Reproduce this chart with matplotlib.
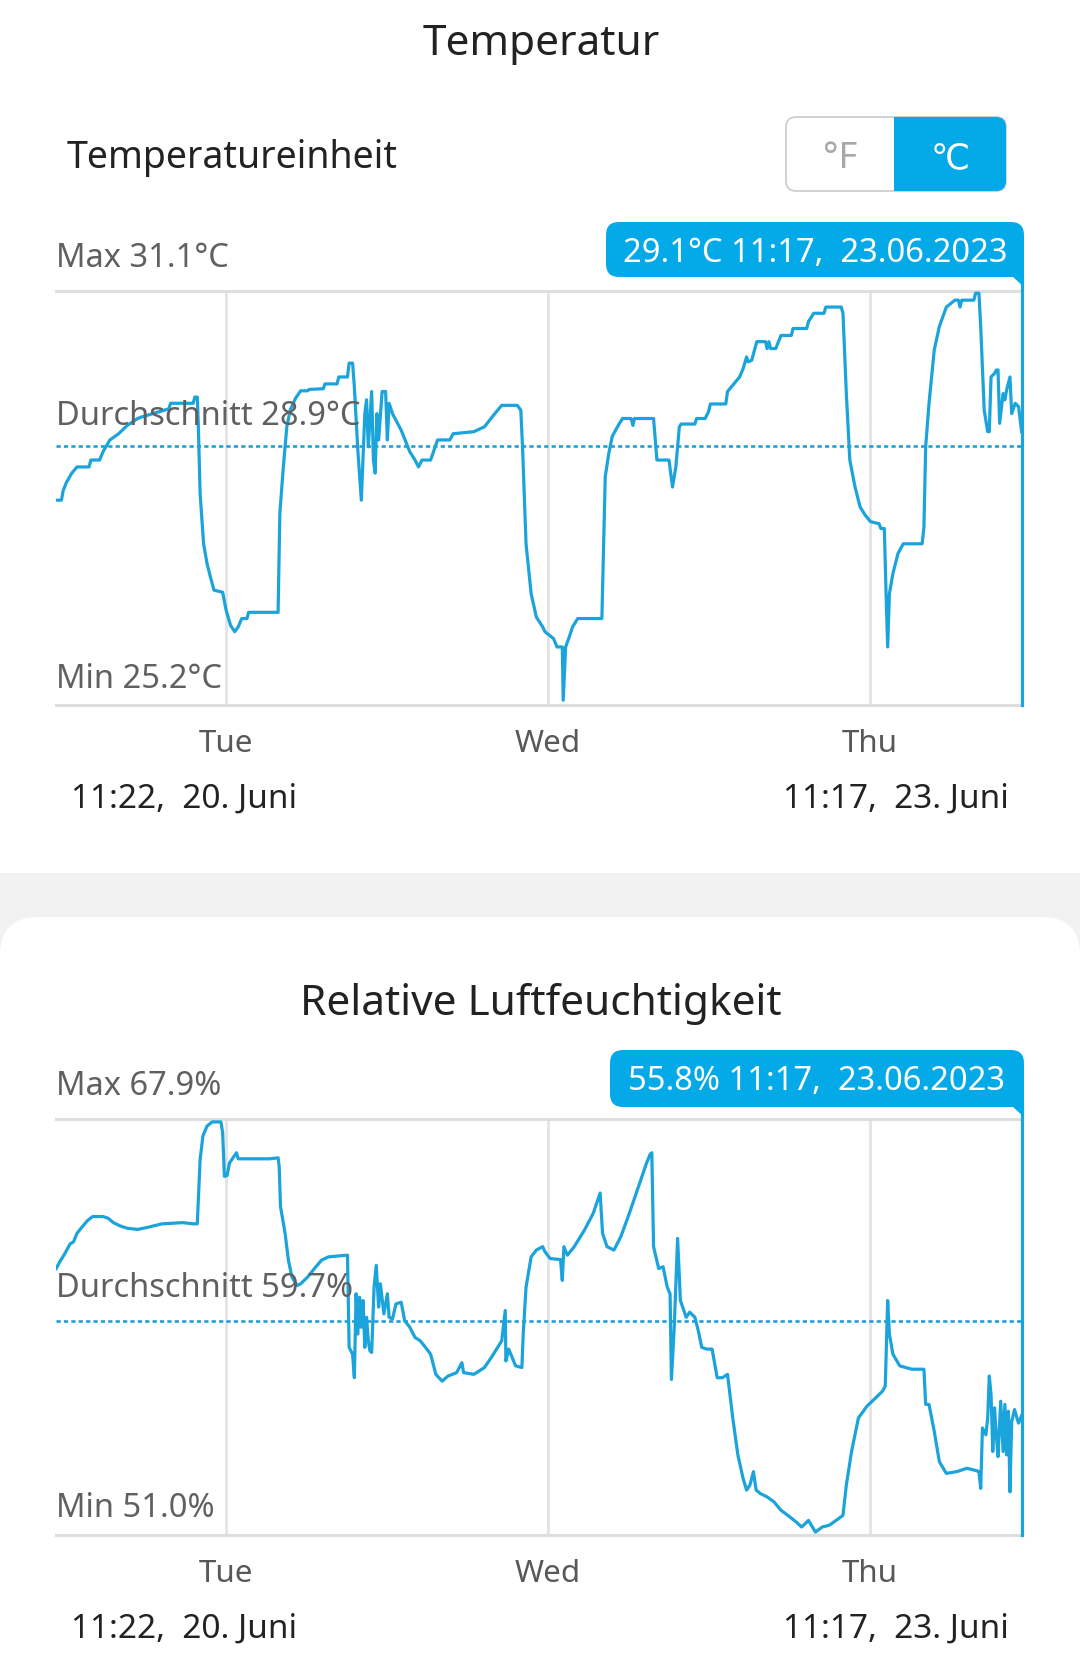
import matplotlib
matplotlib.use('Agg')
import matplotlib.pyplot as plt
from matplotlib.patches import FancyBboxPatch, Rectangle, Polygon
import pandas as pd

plt.rcParams['font.family'] = ['Noto Sans', 'DejaVu Sans']

# ---------------- data ----------------
START = pd.Timestamp('2023-06-20 11:22')
END = pd.Timestamp('2023-06-23 11:17')
day_ticks = ['2023-06-21', '2023-06-22', '2023-06-23']
day_labels = ['Tue', 'Wed', 'Thu']
start_label = '11:22,  20. Juni'
end_label = '11:17,  23. Juni'

temp_hours = [0, 0.39, 0.52, 0.77, 1.16, 1.55, 2.45, 2.58, 3.23, 3.49,
              4.00, 4.65, 5.29, 6.07, 6.33, 8.39, 8.52, 10.20, 10.33, 10.51,
              10.59, 10.72, 10.98, 11.24, 11.49, 11.75, 12.40, 12.66, 12.99, 13.30,
              13.56, 13.82, 14.21, 14.33, 16.53, 16.66, 16.92, 17.18, 17.43, 17.82,
              18.21, 18.73, 18.85, 19.89, 20.02, 20.92, 21.05, 21.70, 21.82, 22.08,
              22.21, 22.47, 22.73, 22.99, 23.12, 23.25, 23.50, 23.63, 23.76, 23.89,
              24.02, 24.28, 24.54, 24.67, 24.80, 25.05, 25.70, 26.34, 26.73, 26.99,
              27.25, 27.89, 28.41, 29.32, 29.57, 31.12, 31.90, 32.67, 33.19, 34.35,
              34.61, 34.74, 35.00, 35.38, 35.77, 36.24, 36.41, 37.05, 37.31, 37.70,
              37.77, 37.95, 38.21, 38.47, 38.85, 40.65, 40.78, 40.90, 41.16, 41.42,
              41.67, 41.93, 42.19, 42.83, 42.96, 43.08, 44.50, 44.75, 45.65, 45.91,
              46.16, 46.42, 46.55, 47.58, 47.70, 48.34, 48.60, 48.73, 49.88, 50.01,
              50.53, 50.91, 51.17, 51.43, 51.55, 51.81, 52.19, 52.84, 52.96, 53.09,
              53.22, 53.60, 53.99, 54.76, 54.89, 55.91, 56.04, 56.43, 57.20, 57.33,
              58.48, 58.61, 58.86, 59.12, 59.51, 59.89, 60.28, 60.66, 61.30, 61.43,
              61.69, 61.82, 61.94, 62.07, 62.33, 62.71, 63.10, 64.51, 64.64, 64.77,
              65.02, 65.41, 65.79, 66.31, 66.95, 67.21, 67.33, 67.46, 68.36, 68.49,
              68.74, 68.87, 69.13, 69.39, 69.51, 69.64, 69.90, 70.03, 70.16, 70.28,
              70.54, 70.67, 70.80, 71.05, 71.18, 71.44, 71.69, 71.92]
temp_values = [28.12, 28.12, 28.26, 28.38, 28.51, 28.60, 28.60, 28.70, 28.70, 28.82,
               28.99, 29.08, 29.20, 29.30, 29.32, 29.44, 29.52, 29.52, 29.61, 29.61,
               29.18, 28.22, 27.49, 27.20, 27.01, 26.82, 26.79, 26.53, 26.31, 26.22,
               26.29, 26.41, 26.41, 26.50, 26.50, 27.93, 28.60, 29.18, 29.42, 29.59,
               29.70, 29.70, 29.72, 29.73, 29.80, 29.80, 29.90, 29.90, 30.10, 30.10,
               29.76, 28.84, 28.12, 29.37, 29.57, 28.89, 29.69, 28.70, 28.51, 29.37,
               28.99, 29.69, 29.69, 28.99, 29.52, 29.37, 29.13, 28.82, 28.70, 28.60,
               28.70, 28.70, 28.99, 28.99, 29.08, 29.11, 29.18, 29.37, 29.49, 29.49,
               29.42, 28.89, 27.49, 26.77, 26.43, 26.29, 26.22, 26.12, 26.00, 26.00,
               25.23, 26.00, 26.14, 26.29, 26.41, 26.41, 27.49, 28.46, 28.79, 29.04,
               29.13, 29.22, 29.30, 29.30, 29.20, 29.30, 29.30, 28.70, 28.70, 28.31,
               28.60, 29.18, 29.22, 29.22, 29.30, 29.30, 29.40, 29.51, 29.51, 29.69,
               29.81, 29.90, 30.02, 30.19, 30.12, 30.14, 30.41, 30.41, 30.31, 30.41,
               30.31, 30.31, 30.50, 30.50, 30.60, 30.60, 30.70, 30.82, 30.82, 30.91,
               30.91, 30.82, 29.66, 28.70, 28.31, 28.02, 27.90, 27.81, 27.78, 27.71,
               27.71, 26.77, 26.00, 26.77, 27.06, 27.35, 27.49, 27.49, 27.73, 28.89,
               29.52, 30.29, 30.63, 30.91, 31.01, 31.01, 30.91, 31.01, 31.01, 31.11,
               31.11, 30.63, 29.42, 29.11, 29.11, 29.90, 29.95, 30.00, 30.00, 29.23,
               29.66, 29.57, 29.71, 29.90, 29.37, 29.52, 29.47, 29.11]

hum_hours = [0, 0.26, 0.65, 1.03, 1.29, 1.55, 1.94, 2.32, 2.71, 3.49,
             3.87, 4.26, 4.78, 5.29, 6.07, 6.84, 7.49, 7.88, 9.43, 10.20,
             10.51, 10.59, 10.72, 10.93, 11.24, 11.62, 12.27, 12.40, 12.53, 12.73,
             12.91, 13.43, 13.56, 13.82, 15.88, 16.53, 16.61, 16.71, 17.05, 17.30,
             17.56, 17.95, 18.21, 18.73, 19.24, 19.76, 20.28, 21.70, 21.82, 22.08,
             22.21, 22.34, 22.47, 22.60, 22.73, 22.86, 22.99, 23.12, 23.25, 23.37,
             23.50, 23.68, 23.84, 24.02, 24.15, 24.41, 24.67, 24.80, 25.05, 25.31,
             25.70, 25.96, 26.34, 26.73, 27.12, 27.51, 27.89, 28.28, 28.75, 29.19,
             29.83, 30.22, 30.35, 31.12, 31.90, 32.41, 33.19, 33.45, 33.50, 33.71,
             34.22, 34.69, 34.79, 35.00, 35.38, 35.77, 36.24, 36.41, 36.80, 37.57,
             37.70, 37.82, 38.08, 38.59, 39.36, 40.01, 40.52, 40.70, 41.03, 41.55,
             42.06, 42.70, 43.47, 43.98, 44.24, 44.37, 44.50, 44.88, 45.21, 45.52,
             45.73, 45.83, 46.04, 46.29, 46.50, 46.93, 47.19, 47.58, 47.83, 48.09,
             48.47, 48.86, 49.24, 49.63, 50.01, 50.40, 50.78, 51.17, 51.43, 51.68,
             51.94, 52.14, 52.45, 52.96, 53.48, 53.99, 54.50, 55.14, 55.53, 56.04,
             56.56, 57.07, 57.58, 58.10, 58.61, 58.86, 59.25, 59.76, 60.40, 61.05,
             61.56, 61.76, 61.94, 62.07, 62.33, 62.84, 63.74, 64.64, 64.77, 65.02,
             65.41, 65.79, 66.31, 67.08, 67.85, 68.62, 68.74, 68.87, 69.00, 69.26,
             69.39, 69.51, 69.64, 69.77, 69.90, 70.03, 70.16, 70.36, 70.54, 70.67,
             70.80, 70.93, 71.05, 71.18, 71.39, 71.57, 71.69, 71.92]
hum_values = [61.86, 62.13, 62.48, 62.87, 62.96, 63.31, 63.58, 63.83, 64.00, 64.00,
              63.93, 63.75, 63.61, 63.52, 63.47, 63.56, 63.65, 63.70, 63.75, 63.70,
              63.70, 64.69, 66.35, 67.32, 67.73, 67.90, 67.90, 67.46, 65.66, 65.69,
              66.21, 66.63, 66.38, 66.38, 66.38, 66.42, 66.07, 64.41, 63.31, 62.20,
              61.51, 61.16, 61.23, 61.51, 61.86, 62.20, 62.34, 62.41, 58.61, 58.33,
              57.36, 60.82, 59.16, 60.68, 59.44, 60.54, 58.61, 59.85, 58.88, 58.47,
              58.40, 61.09, 61.99, 60.27, 61.23, 59.99, 60.82, 59.85, 59.78, 60.40,
              60.47, 59.71, 59.44, 59.02, 58.88, 58.61, 58.33, 57.50, 57.22, 57.43,
              57.57, 57.98, 57.57, 57.50, 57.78, 58.19, 58.88, 60.13, 58.05, 58.54,
              57.85, 57.78, 59.16, 61.09, 62.34, 62.62, 62.76, 62.55, 62.27, 62.23,
              61.37, 62.76, 62.41, 62.76, 63.45, 64.14, 64.97, 63.31, 62.76, 62.62,
              63.17, 64.14, 65.38, 66.21, 66.56, 66.63, 62.76, 61.86, 61.93, 61.09,
              60.82, 57.29, 59.44, 63.10, 60.54, 59.85, 60.06, 59.85, 59.30, 58.61,
              58.54, 58.54, 57.36, 57.36, 57.50, 55.70, 54.18, 53.21, 52.73, 52.94,
              53.49, 52.73, 52.59, 52.45, 52.24, 51.90, 51.69, 51.41, 51.21, 51.48,
              51.00, 51.21, 51.28, 51.48, 51.69, 52.94, 54.32, 55.70, 56.19, 56.53,
              56.81, 57.02, 60.54, 59.16, 58.33, 57.85, 57.71, 57.71, 56.26, 56.26,
              55.15, 53.90, 53.42, 53.49, 53.63, 53.52, 53.49, 52.80, 55.29, 55.01,
              55.70, 57.43, 56.67, 54.32, 56.12, 55.01, 54.11, 56.39, 54.32, 56.26,
              54.18, 55.98, 52.66, 55.56, 56.05, 55.70, 55.49, 55.80]

temp_max, temp_min, temp_avg, temp_now = 31.1, 25.2, 28.9, 29.1
hum_max, hum_min, hum_avg, hum_now = 67.9, 51.0, 59.7, 55.8

# ---------------- style ----------------
LINE = '#1ba3dc'
AVG = '#229fd2'
TIP = '#04a9e7'
GRID = '#dedede'
LABEL_GRAY = '#606060'
DARK = '#222222'
W, H = 10.8, 16.63

fig = plt.figure(figsize=(W, H), dpi=100)
fig.patch.set_facecolor('white')


def yin(px_from_top):
    return (1663 - px_from_top) / 100.0


def fy(px_from_top):
    return 1 - px_from_top / 1663.0


# background: grey band + white rounded card
fig.patches.append(Rectangle((0, yin(917) - 0.5), W, 0.5 + (917 - 873) / 100.0,
                             transform=fig.dpi_scale_trans, facecolor='#f2f2f2',
                             edgecolor='none', zorder=-3))
fig.patches.append(FancyBboxPatch((0, -0.6), W, yin(917) + 0.6,
                                  boxstyle='round,pad=0,rounding_size=0.38',
                                  transform=fig.dpi_scale_trans, facecolor='white',
                                  edgecolor='none', zorder=-2))

# unit toggle
fig.patches.append(FancyBboxPatch((7.86, yin(191)), 2.20, 0.74,
                                  boxstyle='round,pad=0,rounding_size=0.10',
                                  transform=fig.dpi_scale_trans, facecolor='white',
                                  edgecolor='#cfcfcf', lw=1.3, zorder=2))
fig.patches.append(FancyBboxPatch((8.94, yin(191)), 1.12, 0.74,
                                  boxstyle='round,pad=0,rounding_size=0.10',
                                  transform=fig.dpi_scale_trans, facecolor=TIP,
                                  edgecolor='none', zorder=2.1))
fig.patches.append(Rectangle((8.94, yin(191)), 0.2, 0.74, transform=fig.dpi_scale_trans,
                             facecolor=TIP, edgecolor='none', zorder=2.1))
fig.text(840 / 1080, fy(168), '°F', fontsize=26, color='#a8a8a8', ha='center', va='baseline')
fig.text(950 / 1080, fy(168), '℃', fontsize=25, color='white', ha='center', va='baseline',
         family=['DejaVu Sans'])


def tooltip(x0, x1, top, bottom, text, text_x, baseline):
    fig.patches.append(FancyBboxPatch((x0 / 100, yin(bottom)), (x1 - x0) / 100, (bottom - top) / 100,
                                      boxstyle='round,pad=0,rounding_size=0.13',
                                      transform=fig.dpi_scale_trans, facecolor=TIP,
                                      edgecolor='none', zorder=2))
    fig.patches.append(Rectangle(((x1 - 15) / 100, yin(bottom)), 0.15, 0.15,
                                 transform=fig.dpi_scale_trans, facecolor=TIP,
                                 edgecolor='none', zorder=2))
    fig.patches.append(Polygon([((x1 - 11) / 100, yin(bottom)), (x1 / 100, yin(bottom)),
                                (x1 / 100, yin(bottom + 10))], closed=True,
                               transform=fig.dpi_scale_trans, facecolor=TIP,
                               edgecolor='none', zorder=2))
    fig.text(text_x / 1080, fy(baseline), text, fontsize=23.5, color='white',
             ha='center', va='baseline', zorder=5)


def chart(rect, hours, values, ylim, avg):
    ax = fig.add_axes(rect)
    ax.set_facecolor('none')
    t = START + pd.to_timedelta(hours, unit='h')
    ax.plot(t, values, color=LINE, lw=2.3, zorder=3)
    ax.axhline(avg, color=AVG, lw=1.9, linestyle=(0, (1.6, 1.2)), zorder=2)
    ax.axvline(END, ymin=0, ymax=1.03, color=LINE, lw=2.3, clip_on=False, zorder=3)
    ax.set_xlim(START, END)
    ax.set_ylim(*ylim)
    ax.set_yticks([])
    ax.set_xticks(pd.to_datetime(day_ticks))
    ax.set_xticklabels(day_labels)
    ax.tick_params(axis='x', length=0, pad=33.8, labelsize=22.5, labelcolor='#585858')
    for lbl in ax.get_xticklabels():
        lbl.set_va('baseline')
    ax.grid(axis='x', color='#e3e3e3', lw=2.0)
    ax.set_axisbelow(True)
    for s in ('left', 'right'):
        ax.spines[s].set_visible(False)
    for s in ('top', 'bottom'):
        ax.spines[s].set_color(GRID)
        ax.spines[s].set_linewidth(2.2)
    return ax


LEFT = 56.2 / 1080
WIDTH = (1021.6 - 56.2) / 1080

# ---------- Temperature ----------
fig.text(0.501, fy(55), 'Temperatur', fontsize=30.5, color=DARK, ha='center', va='baseline')
fig.text(67 / 1080, fy(168), 'Temperatureinheit', fontsize=27, color=DARK, ha='left', va='baseline')
chart([LEFT, fy(705), WIDTH, (705 - 291) / 1663], temp_hours, temp_values, (25.161, 31.142), temp_avg)
fig.text(LEFT, fy(267), f'Max {temp_max}°C', fontsize=23.5, color=LABEL_GRAY, va='baseline')
fig.text(LEFT, fy(425), f'Durchschnitt {temp_avg}°C', fontsize=23.5, color=LABEL_GRAY, va='baseline')
fig.text(LEFT, fy(688), f'Min {temp_min}°C', fontsize=23.5, color=LABEL_GRAY, va='baseline')
tooltip(606, 1024, 222, 277, f'{temp_now}°C 11:17,  23.06.2023', 815, 262)
fig.text(71 / 1080, fy(808), start_label, fontsize=24, color=DARK, ha='left', va='baseline')
fig.text(1009 / 1080, fy(808), end_label, fontsize=24, color=DARK, ha='right', va='baseline')

# ---------- Humidity ----------
fig.text(0.501, fy(1015), 'Relative Luftfeuchtigkeit', fontsize=30.5, color=DARK, ha='center', va='baseline')
chart([LEFT, fy(1535), WIDTH, (1535 - 1119) / 1663], hum_hours, hum_values, (50.88, 68.02), hum_avg)
fig.text(LEFT, fy(1095), f'Max {hum_max}%', fontsize=23.5, color=LABEL_GRAY, va='baseline')
fig.text(LEFT, fy(1297), f'Durchschnitt {hum_avg}%', fontsize=23.5, color=LABEL_GRAY, va='baseline')
fig.text(LEFT, fy(1517), f'Min {hum_min}%', fontsize=23.5, color=LABEL_GRAY, va='baseline')
tooltip(610, 1024, 1050, 1107, f'{hum_now}% 11:17,  23.06.2023', 817, 1090)
fig.text(71 / 1080, fy(1638), start_label, fontsize=24, color=DARK, ha='left', va='baseline')
fig.text(1009 / 1080, fy(1638), end_label, fontsize=24, color=DARK, ha='right', va='baseline')

fig.savefig('out.png', dpi=100, facecolor='white')
